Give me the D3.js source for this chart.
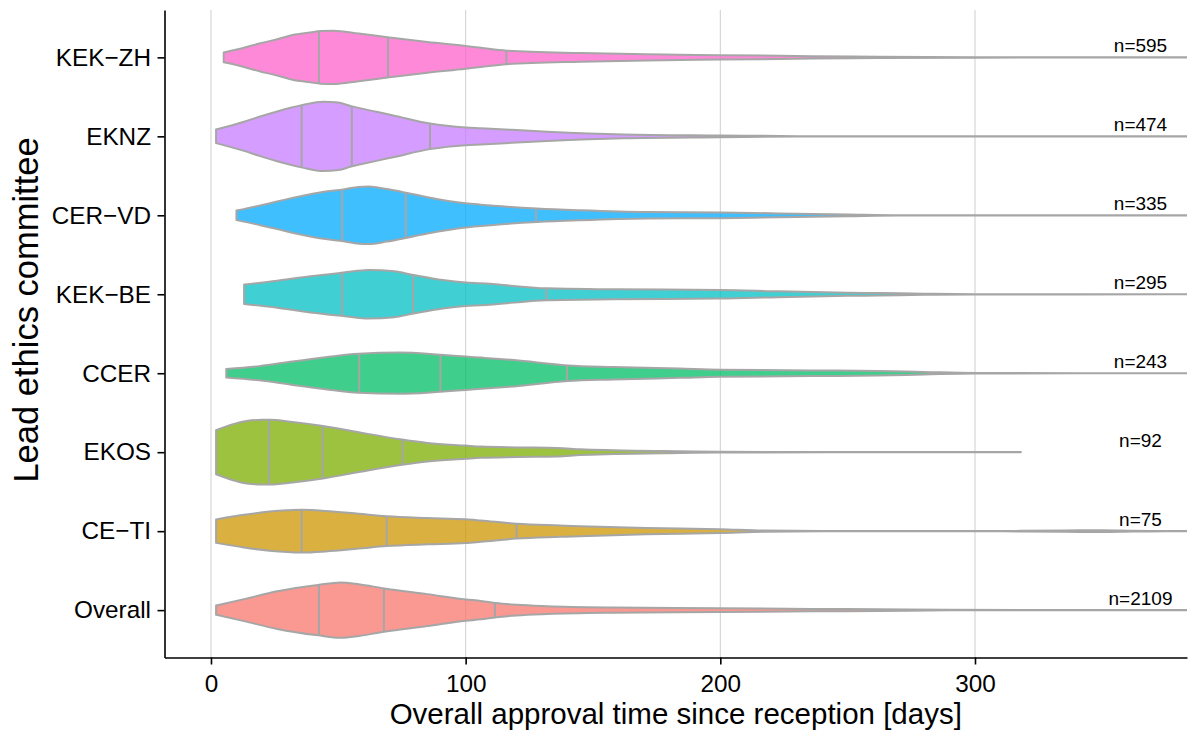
<!DOCTYPE html>
<html>
<head>
<meta charset="utf-8">
<script src="https://cdn.jsdelivr.net/npm/d3@7"></script>
<style>
  html, body { margin: 0; padding: 0; background: #ffffff; }
  svg { display: block; font-family: "Liberation Sans", Arial, Helvetica, sans-serif; }
</style>
</head>
<body>
<svg id="chart" width="1190" height="740"></svg>
<script>
// Lead ethics committees, top to bottom
const committees = ["KEK\u2212ZH", "EKNZ", "CER\u2212VD", "KEK\u2212BE", "CCER", "EKOS", "CE\u2212TI", "Overall"];
const sampleSizes = [595, 474, 335, 295, 243, 92, 75, 2109];

// Quartiles of approval time (days)
const quartile1 = [42.4, 35.6, 51.5, 51.5, 58.2, 22.8, 35.6, 42.4];
const medians   = [69.5, 55.3, 76.5, 79.4, 90.1, 43.8, 69.0, 67.9];
const quartile3 = [116.0, 86.0, 127.6, 131.7, 139.8, 75.2, 120.0, 111.5];

// Violin density profiles: [days, scaled density]; first point = minimum, last = maximum
const densityKEKZH = [[5,0.14],[13,0.27],[19,0.39],[26,0.51],[32,0.63],[39,0.70],[43,0.74],[48,0.75],[58,0.67],[70,0.56],[85,0.43],[100,0.32],[106,0.27],[116,0.19],[145,0.12],[171,0.087],[200,0.063],[236,0.035],[262,0.02],[300,0.007],[350,0.004],[410,0.002]];
const densityEKNZ  = [[2,0.19],[13,0.41],[19,0.55],[26,0.70],[36,0.88],[44,0.975],[50,0.95],[55,0.85],[65,0.69],[72,0.58],[86,0.36],[100,0.25],[106,0.23],[132,0.13],[162,0.054],[200,0.025],[230,0.006],[300,0.003],[410,0.002]];
const densityCERVD = [[10,0.134],[19,0.27],[32,0.49],[45,0.67],[52,0.73],[58,0.80],[62,0.81],[69,0.74],[77,0.63],[85,0.51],[100,0.34],[106,0.30],[111,0.27],[128,0.19],[145,0.14],[171,0.09],[200,0.08],[223,0.054],[250,0.025],[270,0.005],[320,0.003],[410,0.002]];
const densityKEKBE = [[13,0.275],[26,0.38],[39,0.51],[52,0.61],[62,0.68],[72,0.645],[79,0.55],[91,0.40],[100,0.33],[106,0.31],[132,0.166],[158,0.14],[200,0.12],[223,0.082],[250,0.045],[262,0.035],[280,0.017],[300,0.004],[340,0.003],[410,0.002]];
const densityCCER  = [[6,0.12],[19,0.20],[32,0.33],[45,0.45],[58,0.55],[74,0.58],[90,0.52],[100,0.47],[106,0.44],[119,0.37],[140,0.22],[158,0.176],[184,0.13],[200,0.10],[236,0.08],[262,0.063],[280,0.035],[300,0.007],[340,0.003],[410,0.002]];
const densityEKOS  = [[2,0.62],[8,0.775],[14,0.88],[20,0.91],[23,0.91],[32,0.85],[44,0.74],[58,0.56],[75,0.355],[85,0.26],[100,0.186],[106,0.158],[120,0.135],[136,0.12],[145,0.082],[158,0.054],[184,0.025],[200,0.011],[250,0.004],[318,0.003]];
const densityCETI  = [[2,0.33],[13,0.46],[23,0.55],[36,0.60],[45,0.57],[58,0.49],[69,0.42],[85,0.37],[100,0.335],[106,0.30],[120,0.21],[137,0.16],[145,0.14],[171,0.09],[200,0.054],[217,0.017],[240,0.004],[300,0.003],[318,0.008],[335,0.02],[350,0.025],[362,0.012],[375,0.004],[410,0.003]];
const densityOverall = [[2,0.13],[13,0.31],[26,0.53],[42,0.71],[51,0.78],[58,0.73],[68,0.61],[85,0.45],[100,0.30],[106,0.26],[112,0.20],[120,0.15],[132,0.11],[158,0.073],[200,0.054],[236,0.035],[262,0.025],[290,0.007],[340,0.003],[410,0.002]];
const densities = [densityKEKZH, densityEKNZ, densityCERVD, densityKEKBE, densityCCER, densityEKOS, densityCETI, densityOverall];

// Axis settings
const xLimits = [0, 365];
const xTicks = [0, 100, 200, 300];
const labelDay = 365;

// Hue palette (one colour per committee)
const palette = ["#FF61CC", "#C77CFF", "#00A9FF", "#00BFC4", "#00BE67", "#7CAE00", "#CD9600", "#F8766D"];

const W = 1190, H = 740;
const panel = { left: 164.5, right: 1187, top: 10, bottom: 657.5 };
const outline = "#a6a6a6";

const svg = d3.select("#chart");
svg.append("rect").attr("width", W).attr("height", H).attr("fill", "#ffffff");

const span = xLimits[1] - xLimits[0];
const x = d3.scaleLinear()
  .domain([xLimits[0] - 0.05 * span, xLimits[1] + 0.05 * span])
  .range([panel.left, panel.right]);

const y = d3.scalePoint()
  .domain(committees)
  .range([panel.top, panel.bottom])
  .padding(0.6);

const widthScale = d3.scaleLinear().domain([0, 1]).range([0, 0.9 * y.step()]);

// clip region for the panel
svg.append("defs").append("clipPath").attr("id", "panel-clip")
  .append("rect")
  .attr("x", panel.left).attr("y", panel.top)
  .attr("width", panel.right - panel.left).attr("height", panel.bottom - panel.top);

// vertical grid lines
svg.append("g").selectAll("line").data(xTicks).join("line")
  .attr("x1", d => x(d)).attr("x2", d => x(d))
  .attr("y1", panel.top).attr("y2", panel.bottom)
  .attr("stroke", "#d3d3d3").attr("stroke-width", 1.1);

const plot = svg.append("g").attr("clip-path", "url(#panel-clip)");

function widthAt(profile, day) {
  for (let i = 1; i < profile.length; i++) {
    if (day <= profile[i][0]) {
      const [d0, v0] = profile[i - 1], [d1, v1] = profile[i];
      return v0 + (v1 - v0) * (day - d0) / (d1 - d0);
    }
  }
  return profile[profile.length - 1][1];
}

committees.forEach((name, i) => {
  const cy = y(name);
  const profile = densities[i];
  const area = d3.area()
    .curve(d3.curveMonotoneX)
    .x(d => x(d[0]))
    .y0(d => cy - widthScale(d[1]) / 2)
    .y1(d => cy + widthScale(d[1]) / 2);

  const g = plot.append("g");
  g.append("path")
    .attr("d", area(profile))
    .attr("fill", palette[i])
    .attr("fill-opacity", 0.75)
    .attr("stroke", outline)
    .attr("stroke-width", 2)
    .attr("stroke-linejoin", "round");

  [quartile1[i], medians[i], quartile3[i]].forEach(q => {
    const hw = widthScale(widthAt(profile, q)) / 2;
    g.append("line")
      .attr("x1", x(q)).attr("x2", x(q))
      .attr("y1", cy - hw).attr("y2", cy + hw)
      .attr("stroke", outline).attr("stroke-width", 2);
  });
});

// sample size labels
svg.append("g").selectAll("text").data(committees).join("text")
  .attr("x", x(labelDay))
  .attr("y", d => y(d) - 5)
  .attr("text-anchor", "middle")
  .attr("font-size", 19)
  .attr("fill", "#000")
  .text((d, i) => "n=" + sampleSizes[i]);

// axes
const xAxis = svg.append("g")
  .attr("transform", `translate(0,${panel.bottom})`)
  .call(d3.axisBottom(x).tickValues(xTicks).tickSize(7).tickSizeOuter(0).tickPadding(10.5));
const yAxis = svg.append("g")
  .attr("transform", `translate(${panel.left},0)`)
  .call(d3.axisLeft(y).tickSize(7).tickSizeOuter(0).tickPadding(6.5));

[xAxis, yAxis].forEach(a => {
  a.select(".domain").attr("stroke", "#000").attr("stroke-width", 1.6);
  a.selectAll(".tick line").attr("stroke", "#000").attr("stroke-width", 1.6);
  a.selectAll(".tick text").attr("fill", "#000").attr("font-size", 24.3)
    .attr("font-family", "'Liberation Sans', Arial, sans-serif");
});

// axis titles
svg.append("text")
  .attr("x", (panel.left + panel.right) / 2)
  .attr("y", 724)
  .attr("text-anchor", "middle")
  .attr("font-size", 29.5)
  .attr("fill", "#000")
  .text("Overall approval time since reception [days]");

svg.append("text")
  .attr("transform", "translate(38,310) rotate(-90)")
  .attr("text-anchor", "middle")
  .attr("font-size", 34.5)
  .attr("fill", "#000")
  .text("Lead ethics committee");
</script>
</body>
</html>
